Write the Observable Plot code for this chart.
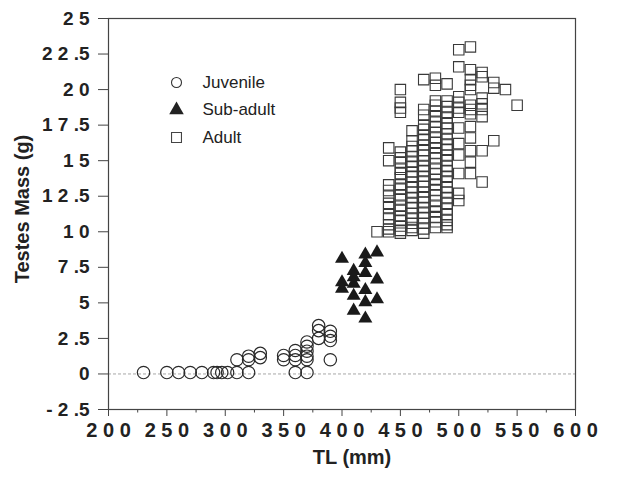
<!DOCTYPE html>
<html><head><meta charset="utf-8">
<script src="https://cdn.jsdelivr.net/npm/d3@7"></script>
<script src="https://cdn.jsdelivr.net/npm/@observablehq/plot@0.6"></script>
<style>
html,body{margin:0;padding:0;background:#fff;}
#chart{width:619px;height:478px;overflow:hidden;}
</style></head><body><div id="chart"></div>
<script>
// Juvenile (circles)
const juvenileTL = [230, 250, 260, 270, 280, 290, 293, 297, 302, 310, 320, 360, 370,
  310, 320, 320, 330, 330, 350, 350, 360, 360, 360, 370, 370, 370, 370, 370,
  380, 380, 380, 390, 390, 390, 390];
const juvenileMass = [0.1, 0.1, 0.1, 0.1, 0.1, 0.1, 0.1, 0.1, 0.1, 0.1, 0.1, 0.1, 0.1,
  1.0, 1.25, 1.0, 1.45, 1.15, 1.3, 1.0, 1.65, 1.3, 1.0, 2.25, 1.95, 1.6, 1.25, 1.0,
  3.4, 3.05, 2.5, 3.0, 2.65, 2.35, 1.0];

// Sub-adult (filled triangles)
const subadultTL = [400, 400, 400, 410, 410, 410, 410, 410, 420, 420, 420, 420, 420, 420, 430, 430, 430];
const subadultMass = [8.1, 6.45, 6.0, 7.25, 6.8, 6.35, 5.5, 4.45, 8.4, 7.8, 7.1, 5.9, 5.05, 3.9, 8.55, 6.65, 5.25];

// Adult (open squares), one list of masses per TL column
const adultTL = [430, 440, 450, 460, 470, 480, 490, 500, 510, 520, 530, 540, 550];
const adultMass = [
  [10.0],
  [15.9, 15.0, 13.3, 12.9, 12.5, 12.0, 11.7, 11.2, 10.9, 10.5, 10.2, 10.0],
  [20.0, 19.1, 18.7, 18.4, 15.6, 15.2, 14.9, 14.4, 14.1, 13.8, 13.3, 13.0, 12.6, 12.3, 11.8, 11.5, 11.1, 10.8, 10.4, 10.1, 9.9],
  [17.1, 16.4, 16.0, 15.7, 15.3, 14.9, 14.6, 14.2, 13.9, 13.5, 13.1, 12.8, 12.4, 12.0, 11.7, 11.3, 10.9, 10.6, 10.3, 10.1],
  [20.7, 18.6, 18.2, 17.5, 17.2, 16.8, 16.5, 16.1, 15.7, 15.4, 15.0, 14.6, 14.3, 13.9, 13.5, 13.2, 12.8, 12.4, 12.1, 11.7, 11.3, 11.0, 10.6, 10.2, 9.9],
  [20.8, 20.3, 19.2, 18.9, 18.5, 18.1, 17.7, 17.4, 17.0, 16.6, 16.3, 15.9, 15.5, 15.2, 14.8, 14.4, 14.1, 13.7, 13.3, 12.9, 12.6, 12.2, 11.8, 11.4, 11.0, 10.7, 10.3],
  [20.4, 19.2, 18.8, 18.4, 18.0, 17.6, 17.3, 16.9, 16.5, 16.1, 15.8, 15.4, 15.0, 14.6, 14.3, 13.9, 13.5, 13.1, 12.8, 12.4, 12.0, 11.6, 11.2, 10.8, 10.5, 10.3],
  [22.8, 21.6, 19.5, 19.1, 18.7, 18.4, 17.3, 16.2, 15.4, 14.1, 12.7, 12.2],
  [23.0, 21.4, 20.7, 20.3, 20.0, 18.9, 18.6, 18.3, 17.4, 16.6, 15.7, 14.9, 14.1],
  [21.2, 20.9, 19.4, 19.0, 18.6, 18.1, 15.7, 13.5],
  [20.5, 20.1, 16.4],
  [20.0],
  [18.9]
];

const xTicks = [200, 250, 300, 350, 400, 450, 500, 550, 600];
const xMinorTicks = [225, 275, 325, 375, 425, 475, 525, 575];
const yTicks = [-2.5, 0, 2.5, 5, 7.5, 10, 12.5, 15, 17.5, 20, 22.5, 25];
const legendLabels = ["Juvenile", "Sub-adult", "Adult"];
const legendSymbols = ["circle", "triangle", "square"];
const xTitle = "TL (mm)";
const yTitle = "Testes Mass (g)";

const juveniles = juvenileTL.map((tl, i) => ({tl, mass: juvenileMass[i]}));
const subadults = subadultTL.map((tl, i) => ({tl, mass: subadultMass[i]}));
const adults = adultTL.flatMap((tl, i) => adultMass[i].map(mass => ({tl, mass})));

const spaced = s => s.replace(/([\d\-])(?=.)/g, "$1 ");
const ink = "#222";

const legendMarks = legendLabels.flatMap((label, i) => {
  const dy = 64 + i * 27.5;
  const sym = legendSymbols[i];
  const dotOpts = sym === "triangle"
    ? {symbol: "triangle", r: 5.4, fill: ink, stroke: "none"}
    : sym === "circle"
      ? {symbol: "circle", r: 5, fill: "none", stroke: "#333", strokeWidth: 1.1}
      : {symbol: "square", r: 5.6, fill: "none", stroke: "#444", strokeWidth: 1.1};
  return [
    Plot.dot([label], {frameAnchor: "top-left", dx: 68, dy, ...dotOpts}),
    Plot.text([label], {frameAnchor: "top-left", dx: 94, dy, text: d => d, textAnchor: "start", lineAnchor: "middle", fontSize: 17, fill: ink})
  ];
});

const chart = Plot.plot({
  width: 619, height: 478,
  marginLeft: 108, marginRight: 44, marginTop: 18, marginBottom: 69,
  style: {fontFamily: "'Liberation Sans', Arial, Helvetica, sans-serif", background: "#fff", color: ink, overflow: "visible"},
  x: {domain: [200, 600], label: null},
  y: {domain: [-2.5, 25], label: null},
  marks: [
    Plot.ruleY([0], {stroke: "#a8a8a8", strokeDasharray: "3,2", strokeWidth: 1}),
    Plot.frame({stroke: "#444", strokeWidth: 1.2}),
    Plot.axisX(xMinorTicks, {tickSize: 3.5, tickFormat: () => "", stroke: "#444", label: null}),
    Plot.axisX(xTicks, {tickSize: 7, tickPadding: 6, tickFormat: d => spaced(String(d)), fontSize: 20, fontWeight: "bold", stroke: "#444", fill: ink, label: null}),
    Plot.axisY(yTicks, {tickSize: 10, tickPadding: 9, tickFormat: d => spaced(String(d)), fontSize: 19, fontWeight: "bold", stroke: "#444", fill: ink, label: null}),
    Plot.dot(adults, {x: "tl", y: "mass", symbol: "square", r: 5.9, stroke: "#3a3a3a", strokeWidth: 1.1, fill: "none"}),
    Plot.dot(juveniles, {x: "tl", y: "mass", symbol: "circle", r: 6.2, stroke: "#2a2a2a", strokeWidth: 1.2, fill: "none"}),
    Plot.dot(subadults, {x: "tl", y: "mass", symbol: "triangle", r: 5.2, fill: "#1a1a1a", stroke: "none"}),
    ...legendMarks,
    Plot.text([xTitle], {frameAnchor: "bottom", dx: 10, dy: 48, text: d => d, textAnchor: "middle", lineAnchor: "middle", fontSize: 20, fontWeight: "bold", fill: ink}),
    Plot.text([yTitle], {frameAnchor: "left", dx: -86, dy: -5, rotate: -90, text: d => d, textAnchor: "middle", lineAnchor: "middle", fontSize: 20, fontWeight: "bold", fill: ink})
  ]
});
document.getElementById("chart").appendChild(chart);
</script>
</body></html>
